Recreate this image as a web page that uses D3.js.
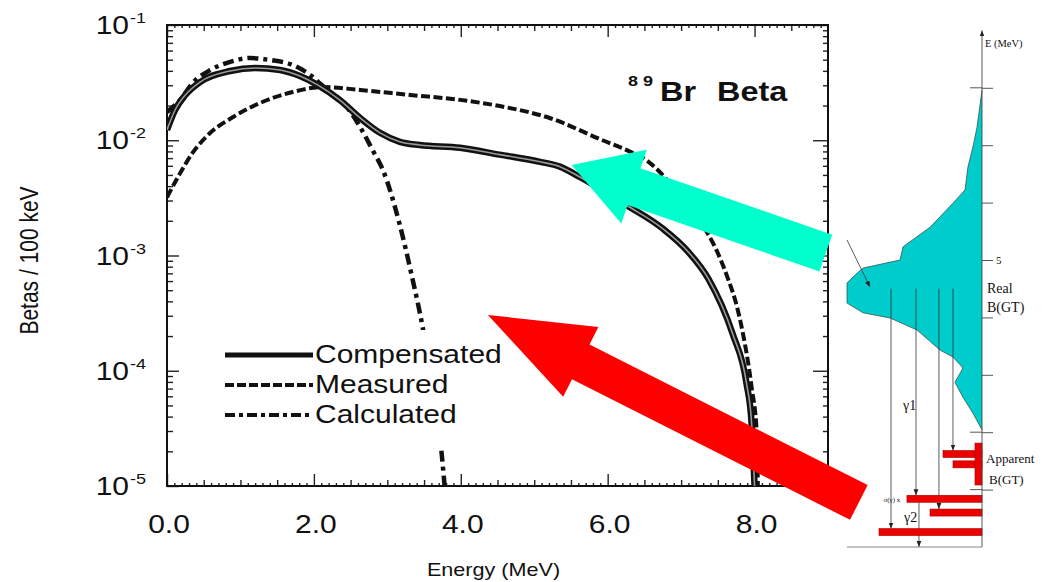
<!DOCTYPE html>
<html>
<head>
<meta charset="utf-8">
<script src="https://cdn.jsdelivr.net/npm/d3@7"></script>
<style>
  body { margin: 0; background: #fff; }
  text { font-family: "Liberation Sans", Arial, sans-serif; fill: #111; }
  .serif, .serif text { font-family: "Liberation Serif", "Times New Roman", serif; }
</style>
</head>
<body>
<div id="chart"></div>
<script>
// ----------------------------------------------
// Data
// ----------------------------------------------
// energy (MeV) / betas per 100 keV
var compE = [0, 0.11, 0.25, 0.45, 0.86, 1.2, 1.54, 1.81, 2.05, 2.35, 2.63, 2.9, 3.17, 3.44, 3.99, 4.53, 5.08, 5.35, 5.62, 6.27, 6.74, 7.1, 7.37, 7.7, 7.89, 7.96, 8.0];
var compV = [1.23e-2, 1.83e-2, 2.47e-2, 3.2e-2, 3.99e-2, 4.24e-2, 4.07e-2, 3.61e-2, 3.02e-2, 2.24e-2, 1.56e-2, 1.16e-2, 9.7e-3, 9.1e-3, 8.6e-3, 7.5e-3, 6.5e-3, 5.9e-3, 4.8e-3, 2.7e-3, 1.73e-3, 1.07e-3, 6.3e-4, 2.1e-4, 7.8e-5, 3.5e-5, 1.0e-5];

var measE = [0, 0.18, 0.35, 0.59, 0.9, 1.27, 1.71, 2.12, 2.63, 3.31, 3.99, 4.53, 5.21, 5.93, 6.26, 6.53, 6.8, 7.1, 7.35, 7.48, 7.63, 7.76, 7.84, 7.96, 8.03, 8.045];
var measV = [3.2e-3, 5.2e-3, 7.8e-3, 1.16e-2, 1.59e-2, 2.11e-2, 2.62e-2, 2.9e-2, 2.73e-2, 2.47e-2, 2.24e-2, 1.98e-2, 1.56e-2, 1.0e-2, 8.2e-3, 6.7e-3, 4.6e-3, 2.6e-3, 1.6e-3, 1.12e-3, 6.5e-4, 3.6e-4, 2.13e-4, 7.2e-5, 2.9e-5, 1.0e-5];

var calcE = [0, 0.18, 0.35, 0.59, 0.86, 1.13, 1.4, 1.71, 1.95, 2.18, 2.45, 2.63, 2.8, 2.94, 3.17, 3.33, 3.48, 3.74, 3.78];
var calcV = [1.76e-2, 2.24e-2, 3.14e-2, 4.07e-2, 4.78e-2, 5.17e-2, 4.97e-2, 4.5e-2, 3.68e-2, 2.73e-2, 1.94e-2, 1.3e-2, 8.2e-3, 5.5e-3, 1.84e-3, 6.8e-4, 2.4e-4, 1.9e-5, 1.0e-5];

var seriesNames = ["Compensated", "Measured", "Calculated"];
var xTickValues = [0, 2, 4, 6, 8];
var xTickLabels = ["0.0", "2.0", "4.0", "6.0", "8.0"];
var yExponents = [-1, -2, -3, -4, -5];

// annotation arrows: tip and tail in data coords [E, value]
var arrowTip = [[5.51, 6.1e-3], [4.37, 3.05e-4]];
var arrowTail = [[8.97, 1.05e-3], [9.42, 7.2e-6]];

// decay scheme sketch: excitation energy (MeV) / relative strength
var realE = [7.96, 7.31, 6.97, 6.62, 6.22, 5.99, 5.57, 5.23, 5.0, 4.86, 4.77, 4.6, 4.25, 4.08, 3.99, 3.78, 3.43, 3.31, 3.12, 2.87, 2.61, 2.33, 2.04];
var realS = [0, 0.037, 0.067, 0.104, 0.126, 0.215, 0.385, 0.585, 0.607, 0.881, 0.926, 1.0, 1.0, 0.881, 0.681, 0.481, 0.311, 0.215, 0.141, 0.2, 0.141, 0.067, 0];
var barE = [1.62, 1.44, 0.84, 0.60, 0.26];
var barS = [0.289, 0.215, 0.556, 0.385, 0.763];
var gammaS = [0.674, 0.489, 0.319, 0.215];
var gammaBar = [4, 2, 3, 0];
var levelTicks = [1, 2, 3, 4, 5, 6, 7, 8];

// ----------------------------------------------
// Basic D3 Setup
// ----------------------------------------------
var svgWidth = 1048;
var svgHeight = 582;
var margin = { top: 25, right: 220, bottom: 96, left: 167 };
var width = svgWidth - margin.left - margin.right;
var height = svgHeight - margin.top - margin.bottom;
var sx = 1.2; // the scanned figure is stretched sideways

var svg = d3.select("#chart")
    .append("svg")
    .attr("width", svgWidth)
    .attr("height", svgHeight)
    .style("background", "#fff");

var defs = svg.append("defs");
defs.append("clipPath").attr("id", "plotclip")
    .append("rect").attr("width", width).attr("height", height);
defs.append("marker")
    .attr("id", "tri")
    .attr("viewBox", "0 0 10 10")
    .attr("refX", 10).attr("refY", 5)
    .attr("markerWidth", 6).attr("markerHeight", 6)
    .attr("markerUnits", "userSpaceOnUse")
    .attr("orient", "auto")
    .append("path").attr("d", "M0,1 L10,5 L0,9 z").attr("fill", "#222");

var chartGroup = svg.append("g")
    .attr("transform", `translate(${margin.left}, ${margin.top})`);

var xScale = d3.scaleLinear().domain([0, 9]).range([0, width]);
var yScale = d3.scaleLog().domain([1e-5, 1e-1]).range([height, 0]);

function stretchText(sel, x, y, str, size) {
    return sel.append("text")
        .attr("transform", `translate(${x},${y}) scale(${sx},1)`)
        .style("font-size", size + "px")
        .text(str);
}

// ----------------------------------------------
// Ticks (all pointing inside the frame)
// ----------------------------------------------
var yMajor = yExponents.map(e => Math.pow(10, e));
var yMinor = [];
for (var e = -5; e < -1; e++) {
    for (var m = 2; m < 10; m++) yMinor.push(m * Math.pow(10, e));
}
var xHalf = d3.range(0.5, 9, 1);
var xTenth = d3.range(0, 90).map(i => i / 10).filter(v => Math.round(v * 10) % 5 !== 0);
var xOdd = [1, 3, 5, 7];

function tickAxis(axis, tx, ty) {
    var g = chartGroup.append("g")
        .attr("transform", `translate(${tx},${ty})`)
        .call(axis.tickFormat(""));
    g.select(".domain").remove();
    g.selectAll("line").attr("stroke", "#222").attr("stroke-width", 1.4);
}
tickAxis(d3.axisRight(yScale).tickValues(yMinor).tickSize(6), 0, 0);
tickAxis(d3.axisRight(yScale).tickValues(yMajor).tickSize(12), 0, 0);
tickAxis(d3.axisLeft(yScale).tickValues(yMinor).tickSize(5), width, 0);
tickAxis(d3.axisLeft(yScale).tickValues(yMajor).tickSize(15), width, 0);
tickAxis(d3.axisTop(xScale).tickValues(xTenth).tickSize(3), 0, height);
tickAxis(d3.axisTop(xScale).tickValues(xHalf.concat(xOdd)).tickSize(6), 0, height);
tickAxis(d3.axisTop(xScale).tickValues(xTickValues).tickSize(12), 0, height);
tickAxis(d3.axisBottom(xScale).tickValues(xTenth).tickSize(3), 0, 0);
tickAxis(d3.axisBottom(xScale).tickValues(xHalf.concat(xOdd)).tickSize(6), 0, 0);
tickAxis(d3.axisBottom(xScale).tickValues(xTickValues).tickSize(12), 0, 0);

// frame
chartGroup.append("rect")
    .attr("width", width).attr("height", height)
    .attr("fill", "none").attr("stroke", "#111").attr("stroke-width", 2);

// tick labels
yExponents.forEach(ex => {
    var y = yScale(Math.pow(10, ex));
    stretchText(chartGroup, -38, y + 9, "10", 25).attr("text-anchor", "end");
    stretchText(chartGroup, -37, y - 2, "-" + (-ex), 15);
});
xTickValues.forEach((v, i) => {
    stretchText(chartGroup, xScale(v) + 2, height + 47, xTickLabels[i], 25)
        .attr("text-anchor", "middle");
});

// axis titles
chartGroup.append("text")
    .attr("transform", `translate(${38 - margin.left},${height / 2 + 5}) scale(${sx},1) rotate(-90)`)
    .attr("text-anchor", "middle")
    .style("font-size", "21px")
    .text("Betas / 100 keV");
stretchText(chartGroup, width / 2 - 4, height + 90, "Energy (MeV)", 18)
    .attr("text-anchor", "middle");

// ----------------------------------------------
// Curves
// ----------------------------------------------
var line = d3.line()
    .x(d => xScale(d[0]))
    .y(d => yScale(d[1]))
    .curve(d3.curveMonotoneX);

var curves = chartGroup.append("g").attr("clip-path", "url(#plotclip)");

curves.append("path")
    .datum(d3.zip(measE, measV))
    .attr("d", line)
    .attr("fill", "none").attr("stroke", "#111")
    .attr("stroke-width", 4).attr("stroke-dasharray", "9,3.5");

curves.append("path")
    .datum(d3.zip(calcE, calcV))
    .attr("d", line)
    .attr("fill", "none").attr("stroke", "#111")
    .attr("stroke-width", 4.5).attr("stroke-dasharray", "11,5,4,5");

curves.append("path")
    .datum(d3.zip(compE, compV))
    .attr("d", line)
    .attr("fill", "none").attr("stroke", "#111")
    .attr("stroke-width", 6.5);
curves.append("path")
    .datum(d3.zip(compE, compV))
    .attr("d", line)
    .attr("fill", "none").attr("stroke", "#9a9a9a")
    .attr("stroke-width", 1.6);

// ----------------------------------------------
// Legend (white box hides the curve behind it)
// ----------------------------------------------
var legend = chartGroup.append("g").attr("transform", "translate(48, 305)");
legend.append("rect")
    .attr("width", 300).attr("height", 120)
    .attr("fill", "#fff");
var legendDash = [null, "9,3", "10,4,4,4"];
seriesNames.forEach((name, i) => {
    var y = 33 + i * 30;
    legend.append("line")
        .attr("x1", 10).attr("x2", 98)
        .attr("y1", y - 8).attr("y2", y - 8)
        .attr("stroke", "#111")
        .attr("stroke-width", i === 0 ? 5 : 4)
        .attr("stroke-dasharray", legendDash[i]);
    stretchText(legend, 100, y, name, 25);
});

// title
stretchText(svg, 628, 86, "8", 15).style("font-weight", "bold");
stretchText(svg, 643, 86, "9", 15).style("font-weight", "bold");
stretchText(svg, 660, 101, "Br", 27).style("font-weight", "bold");
stretchText(svg, 717, 101, "Beta", 27).style("font-weight", "bold");

// ----------------------------------------------
// Decay scheme sketch on the right
// ----------------------------------------------
var eScale = d3.scaleLinear().domain([0, 9]).range([547, 30.4]);
var sScale = d3.scaleLinear().domain([0, 1]).range([982, 847]);
var diag = svg.append("g").attr("class", "serif");

var realPts = d3.zip(realE, realS);
diag.append("path")
    .datum(realPts)
    .attr("d", d3.area().y(d => eScale(d[0])).x0(sScale(0)).x1(d => sScale(d[1])))
    .attr("fill", "#00CCCC");
diag.append("path")
    .datum(realPts)
    .attr("d", d3.line().x(d => sScale(d[1])).y(d => eScale(d[0])))
    .attr("fill", "none").attr("stroke", "#355").attr("stroke-width", 0.8);

// gamma transitions
gammaS.forEach((s, i) => {
    diag.append("line")
        .attr("x1", sScale(s)).attr("x2", sScale(s))
        .attr("y1", eScale(4.5)).attr("y2", eScale(barE[gammaBar[i]]) - 3.5)
        .attr("stroke", "#333").attr("stroke-width", 0.8)
        .attr("marker-end", "url(#tri)");
});
diag.append("line")
    .attr("x1", sScale(0.467)).attr("x2", sScale(0.467))
    .attr("y1", eScale(barE[2]) + 3.5).attr("y2", eScale(0))
    .attr("stroke", "#333").attr("stroke-width", 0.8)
    .attr("marker-end", "url(#tri)");

// apparent B(GT) bars
diag.selectAll(".bar")
    .data(d3.zip(barE, barS))
    .enter()
    .append("rect")
    .attr("x", d => sScale(d[1]))
    .attr("y", d => eScale(d[0]) - 3.5)
    .attr("width", d => sScale(0) - sScale(d[1]))
    .attr("height", 7)
    .attr("fill", "#ee0000").attr("stroke", "#a00000").attr("stroke-width", 0.6);
diag.append("rect")
    .attr("x", sScale(0.052)).attr("y", eScale(1.81))
    .attr("width", sScale(0) - sScale(0.052))
    .attr("height", eScale(1.08) - eScale(1.81))
    .attr("fill", "#ee0000").attr("stroke", "#a00000").attr("stroke-width", 0.6);

// energy axis
diag.append("line")
    .attr("x1", sScale(0)).attr("x2", sScale(0))
    .attr("y1", eScale(0)).attr("y2", eScale(9))
    .attr("stroke", "#444").attr("stroke-width", 0.9)
    .attr("marker-end", "url(#tri)");
diag.append("line")
    .attr("x1", sScale(1)).attr("x2", sScale(0))
    .attr("y1", eScale(0)).attr("y2", eScale(0))
    .attr("stroke", "#777").attr("stroke-width", 0.9);
var eAxis = diag.append("g")
    .attr("transform", `translate(${sScale(0)},0)`)
    .call(d3.axisRight(eScale).tickValues(levelTicks).tickSize(11)
        .tickFormat(d => d === 5 ? "5" : ""));
eAxis.select(".domain").remove();
eAxis.selectAll("line").attr("stroke", "#444").attr("stroke-width", 0.9);
eAxis.selectAll("text").style("font-size", "11px").attr("fill", "#222")
    .style("font-family", "'Liberation Serif', serif");
[1, 2, 8].forEach(v => {
    diag.append("line")
        .attr("x1", sScale(0) - 12).attr("x2", sScale(0))
        .attr("y1", eScale(v)).attr("y2", eScale(v))
        .attr("stroke", "#444").attr("stroke-width", 0.9);
});

// pointer into the real distribution
diag.append("line")
    .attr("x1", sScale(1.0)).attr("y1", eScale(5.35))
    .attr("x2", sScale(0.83)).attr("y2", eScale(4.53))
    .attr("stroke", "#333").attr("stroke-width", 0.8)
    .attr("marker-end", "url(#tri)");

// labels
diag.append("text").attr("x", sScale(0) + 3).attr("y", eScale(8.71))
    .style("font-size", "10.5px").text("E (MeV)");
diag.append("text").attr("x", sScale(0) + 5).attr("y", eScale(4.43))
    .style("font-size", "14px").text("Real");
diag.append("text").attr("x", sScale(0) + 5).attr("y", eScale(4.09))
    .style("font-size", "14px").text("B(GT)");
diag.append("text").attr("x", sScale(0) + 4).attr("y", eScale(1.46))
    .style("font-size", "13px").text("Apparent");
diag.append("text").attr("x", sScale(0) + 7).attr("y", eScale(1.10))
    .style("font-size", "13px").text("B(GT)");
diag.append("text").attr("x", sScale(0.585)).attr("y", eScale(2.38))
    .style("font-size", "14px").text("γ1");
diag.append("text").attr("x", sScale(0.578)).attr("y", eScale(0.43))
    .style("font-size", "14px").text("γ2");
diag.append("text").attr("x", sScale(0.73)).attr("y", eScale(0.78))
    .style("font-size", "7px").attr("fill", "#444").text("σ(γ) x");

// ----------------------------------------------
// Arrows
// ----------------------------------------------
var arrowColor = ["#00FFCC", "#FF0000"];
var arrowHeadLen = [66, 104];
function arrowPoly(tip, tail, shaftW, headW, headL) {
    var dx = tail[0] - tip[0], dy = tail[1] - tip[1];
    var len = Math.sqrt(dx * dx + dy * dy);
    var ux = dx / len, uy = dy / len, nx = -uy, ny = ux;
    var bx = tip[0] + ux * headL, by = tip[1] + uy * headL;
    return [
        [tip[0], tip[1]],
        [bx + nx * headW / 2, by + ny * headW / 2],
        [bx + nx * shaftW / 2, by + ny * shaftW / 2],
        [tail[0] + nx * shaftW / 2, tail[1] + ny * shaftW / 2],
        [tail[0] - nx * shaftW / 2, tail[1] - ny * shaftW / 2],
        [bx - nx * shaftW / 2, by - ny * shaftW / 2],
        [bx - nx * headW / 2, by - ny * headW / 2]
    ];
}
arrowTip.forEach((t, i) => {
    var tip = [xScale(t[0]), yScale(t[1])];
    var tail = [xScale(arrowTail[i][0]), yScale(arrowTail[i][1])];
    chartGroup.append("polygon")
        .attr("points", arrowPoly(tip, tail, 39, 78, arrowHeadLen[i]).map(p => p.join(",")).join(" "))
        .attr("fill", arrowColor[i]);
});
</script>
</body>
</html>
